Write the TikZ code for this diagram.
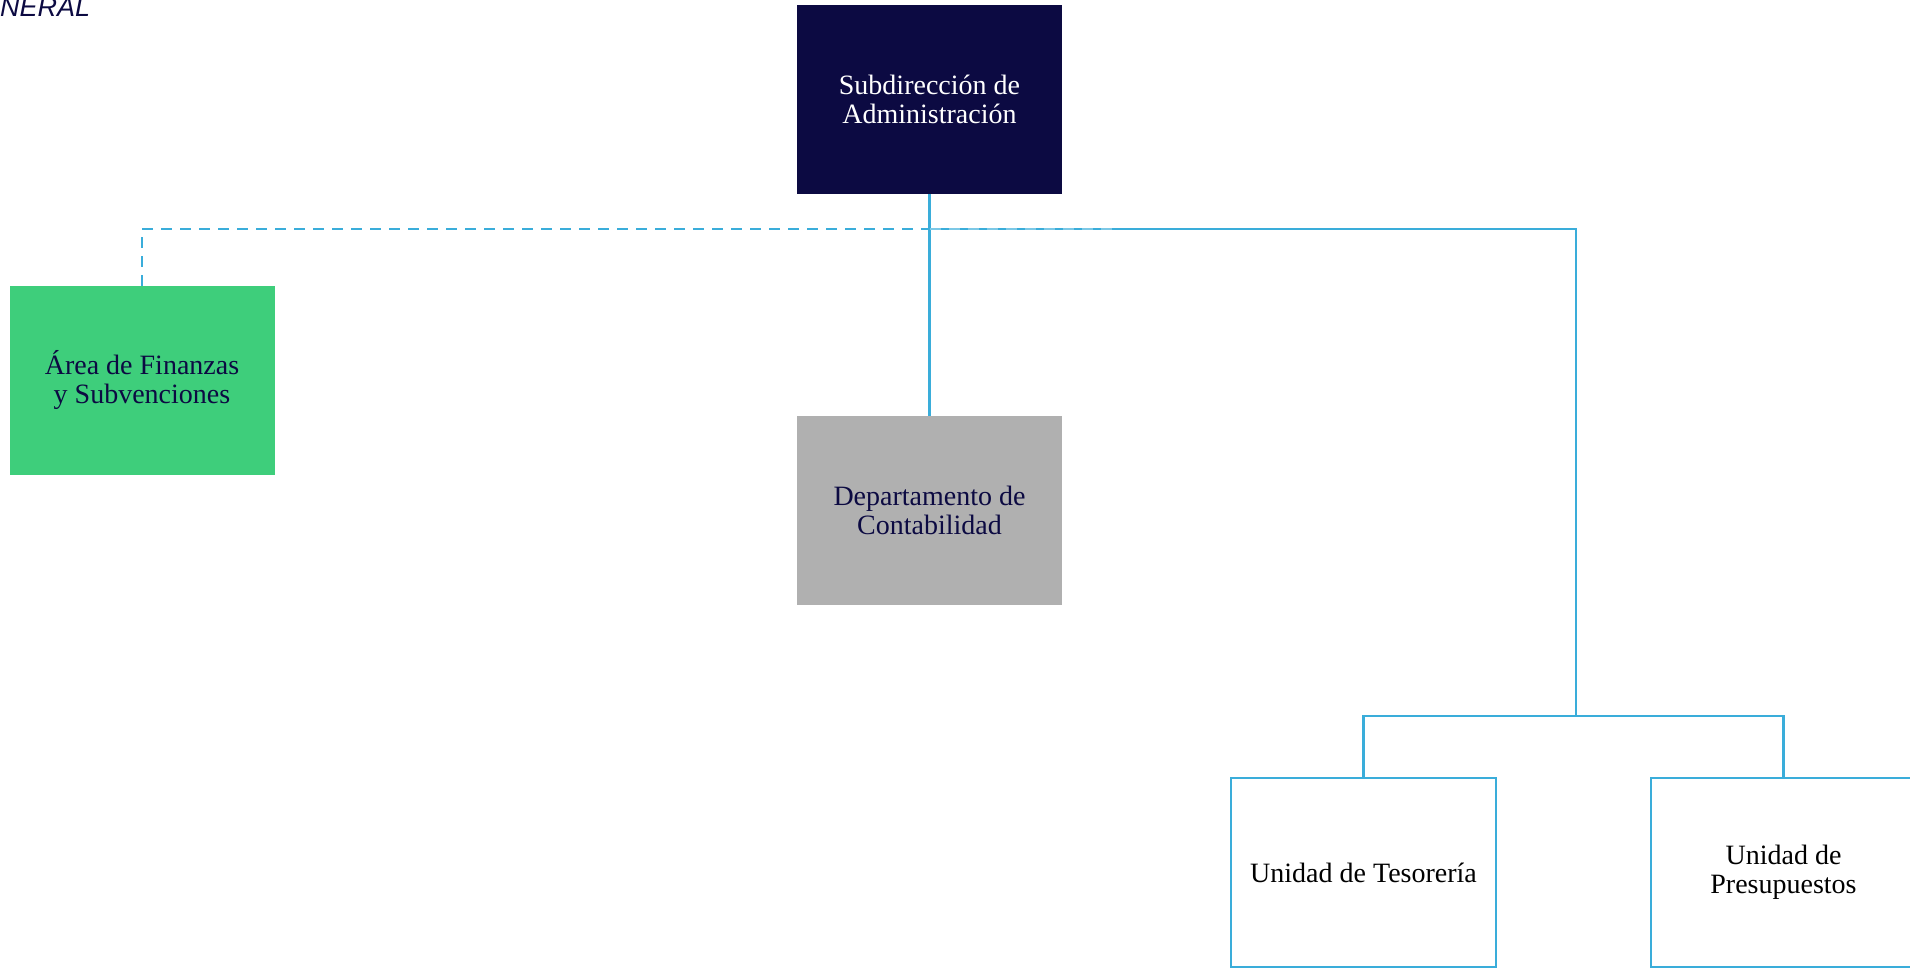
\documentclass[tikz,border=0pt]{standalone}
\usepackage{fontspec}
\setmainfont{Liberation Serif}
\newfontfamily\arialf{Liberation Sans}
\definecolor{navy}{HTML}{0C0A42}
\definecolor{leafgreen}{HTML}{3ECE7B}
\definecolor{boxgray}{HTML}{B0B0B0}
\definecolor{linecyan}{HTML}{3AADDA}
\definecolor{palecyan}{HTML}{7CC8E6}
\tikzset{
  orgbox/.style={rectangle, inner sep=0pt, minimum width=265pt, minimum height=189pt,
    align=center, font=\fontsize{28}{29}\selectfont},
  navybox/.style={orgbox, fill=navy, text=white},
  greenbox/.style={orgbox, fill=leafgreen, text=navy},
  graybox/.style={orgbox, fill=boxgray, text=navy},
  whitebox/.style={orgbox, draw=linecyan, line width=2.6pt, fill=white, text=black},
  link/.style={draw=linecyan, line width=2.6pt},
  dashlink/.style={link, dash pattern=on 11pt off 8pt},
  ghostlink/.style={draw=palecyan, line width=2.6pt, dash pattern=on 11pt off 8pt}
}
\begin{document}
\begin{tikzpicture}[x=1pt,y=-1pt]
\useasboundingbox (0,0) rectangle (1910,968);
\clip (0,0) rectangle (1910,968);
\node[anchor=base west, text=navy, font=\arialf\itshape\fontsize{27}{30}\selectfont, inner sep=0pt] (hdr) at (0,17) {NERAL};
\node[navybox] (sub) at (929.5,99.5) {Subdirección de\\Administración};
\node[greenbox] (fin) at (142,380.5) {Área de Finanzas\\y Subvenciones};
\node[graybox] (cont) at (929.5,510.5) {Departamento de\\Contabilidad};
\coordinate (j) at (929.5,229);
\coordinate (jg) at (1116,229);
\coordinate (r1) at (1576,229);
\coordinate (r2) at (1576,716);
\draw[dashlink] (fin.north) |- (j);
\draw[link] (sub.south) -- (cont.north);
\draw[link] (j) -- (r1) -- (r2);
\draw[ghostlink] (j) -- (jg);
\node[whitebox] (tes) at (1363.5,872.5) {Unidad de Tesorería};
\node[whitebox] (pre) at (1783.5,872.5) {Unidad de\\Presupuestos};
\draw[link] (tes.north) |- (r2) -| (pre.north);
\end{tikzpicture}
\end{document}
